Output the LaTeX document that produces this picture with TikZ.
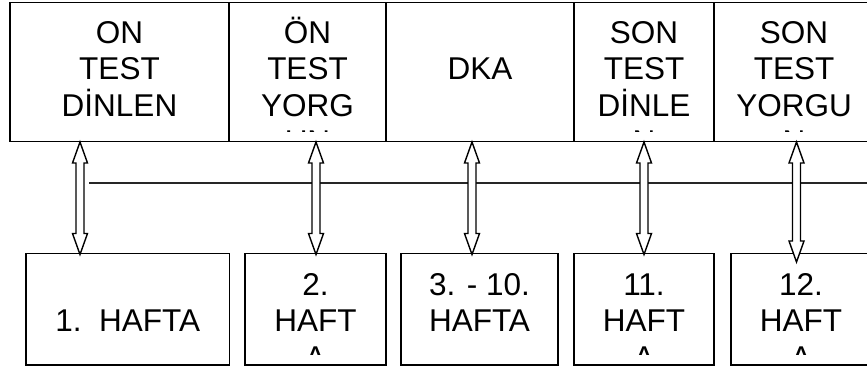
\documentclass[tikz,border=0pt]{standalone}
\usepackage{fontspec}
\setmainfont{Liberation Sans}
\usetikzlibrary{calc}

% open double-headed block arrow between two named points (top, bottom)
\newcommand\blockarrow[2]{%
  \draw[arrowbody] (#1) -- ($(#1)+(7.5,21)$) -- ($(#1)+(4,21)$)
    -- ($(#2)+(4,-21)$) -- ($(#2)+(7.5,-21)$) -- (#2)
    -- ($(#2)+(-7.5,-21)$) -- ($(#2)+(-4,-21)$)
    -- ($(#1)+(-4,21)$) -- ($(#1)+(-7.5,21)$) -- cycle;}

\tikzset{
  boxline/.style={draw=black, line width=1.5pt, fill=white, inner sep=0pt},
  txt/.style={inner sep=0pt, anchor=base, font=\fontsize{31.5}{36.5}\selectfont},
  arrowbody/.style={draw=black, line width=1.4pt, fill=white, line join=miter},
  rail/.style={draw=black!85, line width=1.3pt}
}

\begin{document}
\begin{tikzpicture}[x=1pt, y=-1pt]
\useasboundingbox (0,0) rectangle (867,368);
\clip (0,0) rectangle (867,368);
\fill[white] (0,0) rectangle (867,368);

% upper row of boxes
\node[boxline, minimum width=219pt, minimum height=139pt] (t1) at (119.5,72) {};
\node[boxline, minimum width=157pt, minimum height=139pt] (t2) at (307.5,72) {};
\node[boxline, minimum width=188pt, minimum height=139pt] (t3) at (480,72) {};
\node[boxline, minimum width=140pt, minimum height=139pt] (t4) at (644,72) {};
\node[boxline, minimum width=160pt, minimum height=139pt] (t5) at (794,72) {};

% lower row of boxes
\node[boxline, minimum width=203.5pt, minimum height=111.5pt] (b1) at (127.75,309.25) {};
\node[boxline, minimum width=141pt, minimum height=111.5pt] (b2) at (315.5,309.25) {};
\node[boxline, minimum width=157pt, minimum height=111.5pt] (b3) at (479.5,309.25) {};
\node[boxline, minimum width=140pt, minimum height=111.5pt] (b4) at (644,309.25) {};
\node[boxline, minimum width=140pt, minimum height=111.5pt] (b5) at (801,309.25) {};

% upper box texts (overflowing lines are cut by the text frame)
\foreach \bx/\cx/\lines in {t1/119.5/{ON,TEST,DİNLEN},
                            t2/307.5/{ÖN,TEST,YORG,UN},
                            t4/644/{SON,TEST,DİNLE,N},
                            t5/794/{SON,TEST,YORGU,N}} {
  \begin{scope}
    \clip (\bx.north west) rectangle ($(\bx.east |- 0,131.5)$);
    \foreach \l [count=\i] in \lines
      \node[txt] (\bx-\i) at (\cx, {43+36.5*(\i-1)}) {\l};
  \end{scope}
}
\node[txt] (t3-1) at (480,79.5) {DKA};

% lower box texts
\node[txt] (b1-1) at (127.75,331.5) {1.\ \ HAFTA};
\foreach \bx/\cx/\lines in {b2/315.5/{2.,HAFT,A},
                            b3/479.5/{3. - 10.,HAFTA},
                            b4/644/{11.,HAFT,A},
                            b5/801/{12.,HAFT,A}} {
  \begin{scope}
    \clip (\bx.north west) rectangle ($(\bx.east |- 0,354)$);
    \foreach \l [count=\i] in \lines
      \node[txt] (\bx-\i) at (\cx, {295+36.5*(\i-1)}) {\l};
  \end{scope}
}

% horizontal rail behind the arrows
\coordinate (railL) at (89,183);
\coordinate (railR) at (867,183);
\draw[rail] (railL) -- (railR);

% arrow end points
\coordinate (a1u) at (80,142);    \coordinate (a1d) at (80,254.5);
\coordinate (a2u) at (316,142);   \coordinate (a2d) at (316,254.5);
\coordinate (a3u) at (472,142);   \coordinate (a3d) at (472,254.5);
\coordinate (a4u) at (644,142);   \coordinate (a4d) at (644,254.5);
\coordinate (a5u) at (796.5,142); \coordinate (a5d) at (796.5,262);

\blockarrow{a1u}{a1d}
\blockarrow{a2u}{a2d}
\blockarrow{a3u}{a3d}
\blockarrow{a4u}{a4d}
\blockarrow{a5u}{a5d}
\end{tikzpicture}
\end{document}
